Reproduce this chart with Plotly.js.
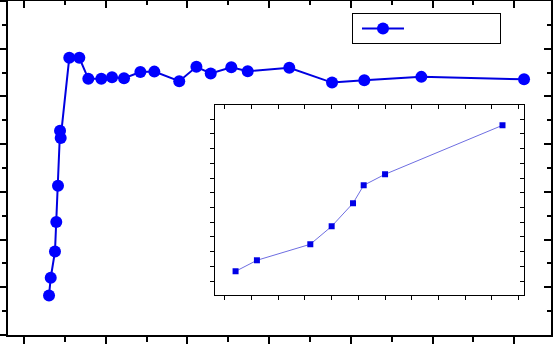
<!DOCTYPE html>
<html>
<head>
<meta charset="utf-8">
<script src="https://cdn.plot.ly/plotly-3.0.1.min.js"></script>
<style>html,body{margin:0;padding:0;background:#fff;}#chart{width:555px;height:344px;}</style>
</head>
<body>
<div id="chart"></div>
<script>
// Main series (axis units read from tick grid; no labels in the reference)
var mainX = [3.06, 3.27, 3.79, 3.95, 4.16, 4.41, 4.49, 5.54, 6.77, 7.87, 9.46, 10.77, 12.24, 14.24, 15.95, 19.0, 21.1, 22.85, 25.37, 27.38, 32.47, 37.70, 41.65, 48.63, 61.2];
var mainY = [8.3, 12.0, 17.5, 23.7, 31.3, 42.8, 41.3, 58.1, 58.1, 53.7, 53.7, 54.0, 53.8, 55.1, 55.2, 53.2, 56.2, 54.8, 56.1, 55.3, 56.0, 52.9, 53.4, 54.1, 53.6];
// Inset series
var insetX = [0.4, 1.2, 3.2, 4.0, 4.8, 5.2, 6.0, 10.4];
var insetY = [0.66, 1.41, 2.50, 3.72, 5.29, 6.51, 7.26, 10.59];

var traces = [
  {x: mainX, y: mainY, type: 'scatter', mode: 'lines+markers', name: '\u00a0',
   xaxis: 'x', yaxis: 'y',
   line: {color: 'rgb(0,0,225)', width: 2},
   marker: {color: 'rgb(0,0,255)', size: 12, symbol: 'circle'}},
  {x: [], y: [], type: 'scatter', xaxis: 'x2', yaxis: 'y2', showlegend: false},
  {x: insetX, y: insetY, type: 'scatter', mode: 'lines+markers', showlegend: false,
   xaxis: 'x3', yaxis: 'y3',
   line: {color: 'rgb(110,110,225)', width: 1},
   marker: {color: 'rgb(0,0,230)', size: 6, symbol: 'square'}},
  {x: [], y: [], type: 'scatter', xaxis: 'x4', yaxis: 'y4', showlegend: false}
];

var axMain = {showline: true, linecolor: '#000', linewidth: 2, showgrid: false, zeroline: false, showticklabels: false};
function merge(a, b) { var o = {}; for (var k in a) o[k] = a[k]; for (var k2 in b) o[k2] = b[k2]; return o; }

var layout = {
  width: 555, height: 344,
  margin: {l: 8, r: 4, t: 1, b: 9, pad: 0},
  paper_bgcolor: '#fff', plot_bgcolor: '#fff',
  showlegend: true,
  legend: {x: 0.6335, y: 0.964, xanchor: 'left', yanchor: 'top', bordercolor: '#000', borderwidth: 1,
           orientation: 'h', entrywidth: 86, entrywidthmode: 'pixels', indentation: 4,
           bgcolor: '#fff', font: {size: 8, family: 'Liberation Sans'}, itemwidth: 42, tracegroupgap: 0},
  xaxis: merge(axMain, {range: [-1.96, 64.5], tick0: 0, dtick: 10, ticks: 'outside', ticklen: 8, tickwidth: 2, tickcolor: '#000',
          minor: {dtick: 5, ticks: 'outside', ticklen: 5, tickwidth: 2, tickcolor: '#000'}}),
  yaxis: merge(axMain, {range: [0, 70], tick0: 0, dtick: 10, ticks: 'outside', ticklen: 7, tickwidth: 2, tickcolor: '#000',
          minor: {dtick: 5, ticks: 'outside', ticklen: 4, tickwidth: 2, tickcolor: '#000'}}),
  xaxis2: merge(axMain, {overlaying: 'x', matches: 'x', side: 'top', tick0: 0, dtick: 10, ticks: 'inside', ticklen: 7, tickwidth: 2, tickcolor: '#000',
          minor: {dtick: 5, ticks: 'inside', ticklen: 4, tickwidth: 2, tickcolor: '#000'}}),
  yaxis2: merge(axMain, {overlaying: 'y', matches: 'y', side: 'right', tick0: 0, dtick: 10, ticks: 'inside', ticklen: 7, tickwidth: 2, tickcolor: '#000',
          minor: {dtick: 5, ticks: 'inside', ticklen: 4, tickwidth: 2, tickcolor: '#000'}}),
  xaxis3: {domain: [0.381, 0.950], anchor: 'y3', range: [-0.375, 11.2], tick0: 0, dtick: 1, showline: true, linecolor: '#000', linewidth: 1,
           showgrid: false, zeroline: false, showticklabels: false, ticks: 'outside', ticklen: 4, tickwidth: 1, tickcolor: '#000'},
  yaxis3: {domain: [0.1198, 0.6886], anchor: 'x3', range: [-0.95, 11.97], tick0: 0, dtick: 1, showline: true, linecolor: '#000', linewidth: 1,
           showgrid: false, zeroline: false, showticklabels: false, ticks: 'outside', ticklen: 4, tickwidth: 1, tickcolor: '#000'},
  xaxis4: {overlaying: 'x3', matches: 'x3', anchor: 'y4', side: 'top', tick0: 0, dtick: 1, showline: true, linecolor: '#000', linewidth: 1,
           showgrid: false, zeroline: false, showticklabels: false, ticks: 'inside', ticklen: 4, tickwidth: 1, tickcolor: '#000'},
  yaxis4: {overlaying: 'y3', matches: 'y3', anchor: 'x4', side: 'right', tick0: 0, dtick: 1, showline: true, linecolor: '#000', linewidth: 1,
           showgrid: false, zeroline: false, showticklabels: false, ticks: 'inside', ticklen: 4, tickwidth: 1, tickcolor: '#000'}
};

Plotly.newPlot('chart', traces, layout, {displayModeBar: false, staticPlot: true});
</script>
</body>
</html>
